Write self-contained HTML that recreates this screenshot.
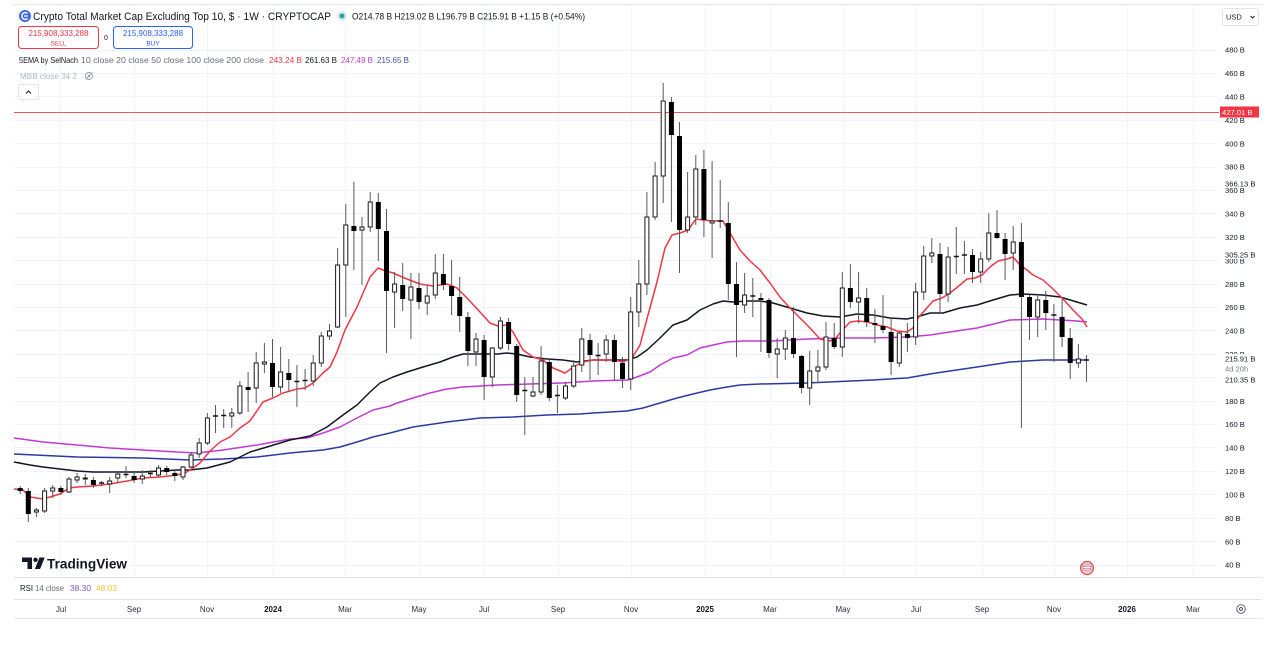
<!DOCTYPE html>
<html><head><meta charset="utf-8"><style>
html,body{margin:0;padding:0;background:#fff;}
svg{display:block;font-family:"Liberation Sans",sans-serif;}
</style></head><body>
<svg width="1286" height="646" viewBox="0 0 1286 646" xmlns="http://www.w3.org/2000/svg">
<rect width="1286" height="646" fill="#fff"/>
<!-- frame lines -->
<g stroke="#e0e3eb" stroke-width="1">
<line x1="13" y1="4.5" x2="1262" y2="4.5"/>
<line x1="14" y1="577.5" x2="1262" y2="577.5"/>
<line x1="14" y1="599.5" x2="1262" y2="599.5"/>
<line x1="14" y1="618.5" x2="1262" y2="618.5"/>
</g>
<!-- horizontal grid -->
<g stroke="#f0f3fa" stroke-width="1">
<line x1="14" y1="50.5" x2="1218" y2="50.5"/><line x1="14" y1="73.5" x2="1218" y2="73.5"/>
<line x1="14" y1="96.5" x2="1218" y2="96.5"/><line x1="14" y1="120.5" x2="1218" y2="120.5"/>
<line x1="14" y1="143.5" x2="1218" y2="143.5"/><line x1="14" y1="167.5" x2="1218" y2="167.5"/>
<line x1="14" y1="190.5" x2="1218" y2="190.5"/><line x1="14" y1="213.5" x2="1218" y2="213.5"/>
<line x1="14" y1="237.5" x2="1218" y2="237.5"/><line x1="14" y1="260.5" x2="1218" y2="260.5"/>
<line x1="14" y1="284.5" x2="1218" y2="284.5"/><line x1="14" y1="307.5" x2="1218" y2="307.5"/>
<line x1="14" y1="330.5" x2="1218" y2="330.5"/><line x1="14" y1="354.5" x2="1218" y2="354.5"/>
<line x1="14" y1="377.5" x2="1218" y2="377.5"/><line x1="14" y1="401.5" x2="1218" y2="401.5"/>
<line x1="14" y1="424.5" x2="1218" y2="424.5"/><line x1="14" y1="447.5" x2="1218" y2="447.5"/>
<line x1="14" y1="471.5" x2="1218" y2="471.5"/><line x1="14" y1="494.5" x2="1218" y2="494.5"/>
<line x1="14" y1="518.5" x2="1218" y2="518.5"/><line x1="14" y1="541.5" x2="1218" y2="541.5"/>
<line x1="14" y1="565.5" x2="1218" y2="565.5"/>
</g>
<!-- vertical grid -->
<g stroke="#f2f4f9" stroke-width="1">
<line x1="60.5" y1="5" x2="60.5" y2="577"/><line x1="134.5" y1="5" x2="134.5" y2="577"/>
<line x1="207.5" y1="5" x2="207.5" y2="577"/><line x1="273.5" y1="5" x2="273.5" y2="577"/>
<line x1="345.5" y1="5" x2="345.5" y2="577"/><line x1="419.5" y1="5" x2="419.5" y2="577"/>
<line x1="484.5" y1="5" x2="484.5" y2="577"/><line x1="558.5" y1="5" x2="558.5" y2="577"/>
<line x1="631.5" y1="5" x2="631.5" y2="577"/><line x1="705.5" y1="5" x2="705.5" y2="577"/>
<line x1="770.5" y1="5" x2="770.5" y2="577"/><line x1="843.5" y1="5" x2="843.5" y2="577"/>
<line x1="916.5" y1="5" x2="916.5" y2="577"/><line x1="982.5" y1="5" x2="982.5" y2="577"/>
<line x1="1054.5" y1="5" x2="1054.5" y2="577"/><line x1="1127.5" y1="5" x2="1127.5" y2="577"/>
<line x1="1193.5" y1="5" x2="1193.5" y2="577"/>
</g>
<!-- red horizontal line -->
<line x1="14" y1="112.5" x2="1219" y2="112.5" stroke="#f7525f" stroke-width="1"/>

<!-- MA lines -->
<g fill="none" stroke-width="1.5" stroke-linejoin="round">
<polyline stroke="#2b3aa0" points="14,454 77,457 143,458 190,460 223,459 257,457 290,453 323,450 340,447 357,442 373,437 390,433 413,427 447,422 480,418 513,417 547,415 580,414 593,413 627,411 643,408 660,403 677,398 693,394 710,390 727,387 740,385 760,384 807,383 873,380 907,378 930,374 943,372 977,367 1010,362 1043,360 1077,360 1087,360"/>
<polyline stroke="#c03bd3" points="14,438 43,442 77,445 110,448 143,450 177,452 197,453 223,450 257,445 290,439 307,438 323,433 340,427 357,418 373,410 390,406 397,403 413,398 430,393 447,389 463,387 480,386 497,385 530,384 563,383 593,381 627,380 637,377 650,372 660,365 673,358 687,355 700,348 713,345 727,342 743,341 773,341 807,339 840,338 873,338 907,337 930,335 943,333 977,328 1010,320 1043,319 1077,321 1087,322"/>
<polyline stroke="#131722" points="14,462 30,465 43,467 60,469 77,471 93,472 110,472 127,472 143,472 160,471 177,470 190,470 207,468 230,462 250,452 267,447 290,440 310,436 327,427 343,415 357,405 370,392 380,383 393,377 407,372 423,367 440,362 453,357 463,354 480,354 497,354 507,353 517,354 530,357 547,359 563,360 577,362 593,360 610,360 627,360 637,357 647,350 660,338 673,325 687,320 700,310 713,304 723,301 733,302 747,301 760,301 773,303 790,308 807,313 823,316 840,317 857,314 873,315 890,318 907,319 920,316 930,313 943,313 960,308 977,305 993,300 1010,295 1023,294 1043,295 1060,297 1077,302 1087,305"/>
<polyline stroke="#f23645" points="14,489 23,490 30,497 43,499 60,494 69,488 77,487 93,486 110,484 127,481 143,478 160,477 177,475 185,473 193,468 200,463 210,451 220,442 230,437 240,428 250,421 263,402 273,398 283,393 297,389 305,388 313,383 323,373 330,367 337,352 345,330 357,307 370,277 378,268 383,270 393,273 407,279 420,284 433,286 447,284 457,288 467,298 480,312 490,323 498,326 507,325 513,332 523,350 533,357 543,360 553,368 565,373 575,366 583,362 593,360 607,360 615,360 623,362 632,358 640,345 648,315 657,282 665,248 672,235 680,233 688,230 696,219 703,220 713,221 723,221 730,233 740,250 750,261 760,270 770,283 780,297 790,308 800,318 810,328 820,339 830,341 835,339 840,333 850,322 858,321 868,322 877,325 887,327 897,331 907,332 913,328 918,318 925,310 933,301 942,298 950,293 960,285 967,279 975,278 982,275 990,267 998,261 1007,259 1013,257 1020,265 1027,270 1033,275 1043,280 1053,289 1063,299 1073,310 1082,319 1087,327"/>
</g>

<!-- wicks -->
<path fill="none" stroke="#5a5a5a" stroke-width="1" d="M20.2 486V494M28.3 488V522M36.4 508V517M44.6 488V513M52.7 485V498M60.9 486V495M69 477V493M77.1 473V483M85.3 474V485M93.4 477V488M101.6 481V486M109.7 477V493M117.8 471V483M126 466V478M134.1 473V483M142.3 470V484M150.4 470V477M158.5 465V477M166.7 466V475M174.8 470V481M183 466V480M191.1 452V468M199.2 438V458M207.4 413V445M215.5 405V433M223.7 409V428M231.8 408V428M239.9 381V415M248.1 372V412M256.2 352V403M264.4 343V373M272.5 339V397M280.6 347V393M288.8 359V392M296.9 365V407M305.1 369V390M313.2 355V386M321.3 332V367M329.5 324V340M337.6 248V328M345.8 204V317M353.9 182V270M362 217V285M370.2 192V232M378.3 193V261M386.5 209V353M394.6 272V328M402.7 263V311M410.9 273V339M419 273V309M427.2 285V315M435.3 254V299M443.4 254V290M451.6 260V315M459.7 277V332M467.9 312V366M476 333V366M484.1 335V400M492.3 347V387M500.4 317V350M508.6 318V350M516.7 344V402M524.8 377V435M533 377V397M541.1 346V395M549.3 358V401M557.4 385V413M565.5 382V400M573.7 360V388M581.8 328V372M590 334V380M598.1 343V375M606.2 335V362M614.4 335V380M622.5 357V388M630.7 297V390M638.8 260V327M646.9 192V295M655.1 162V220M663.2 83V203M671.4 97V222M679.5 122V273M687.6 172V233M695.8 155V225M703.9 150V237M712.1 161V258M720.2 180V228M728.3 202V300M736.5 262V357M744.6 273V313M752.8 278V317M760.9 293V352M769 298V358M777.2 338V378M785.3 330V360M793.5 307V358M801.6 355V393M809.7 351V405M817.9 350V383M826 322V370M834.2 323V349M842.3 272V357M850.4 264V308M858.6 272V323M866.7 288V327M874.9 309V343M883 295V333M891.1 318V375M899.3 332V367M907.4 323V352M915.6 283V345M923.7 246V300M931.8 238V263M940 243V312M948.1 247V302M956.3 227V274M964.4 241V274M972.5 249V283M980.7 252V283M988.8 213V262M997 210V239M1005.1 233V280M1013.2 226V270M1021.4 223V428M1029.5 295V340M1037.7 296V337M1045.8 291V330M1053.9 304V362M1062.1 299V347M1070.2 328V379M1078.4 344V368M1086.5 355V382"/>

<!-- black bodies -->
<path fill="#000" d="M17.7 488h5V491h-5zM25.8 491h5V514h-5zM58.4 488h5V492h-5zM90.9 480h5V485h-5zM131.6 476h5V480h-5zM164.2 468h5V472h-5zM172.3 473h5V476h-5zM245.6 387h5V390h-5zM270 363h5V387h-5zM286.3 373h5V380h-5zM351.4 226h5V231h-5zM375.8 202h5V229h-5zM384 231h5V291h-5zM400.2 285h5V299h-5zM416.5 288h5V302h-5zM440.9 274h5V285h-5zM449.1 286h5V296h-5zM457.2 297h5V316h-5zM465.4 317h5V351h-5zM481.6 340h5V377h-5zM506.1 322h5V344h-5zM514.2 346h5V395h-5zM546.8 362h5V398h-5zM587.5 340h5V355h-5zM611.9 340h5V362h-5zM620 363h5V379h-5zM668.9 102h5V135h-5zM677 136h5V230h-5zM701.4 169h5V220h-5zM725.8 223h5V284h-5zM734 284h5V305h-5zM758.4 298h5V300h-5zM766.5 300h5V353h-5zM791 338h5V354h-5zM799.1 356h5V388h-5zM831.7 338h5V347h-5zM847.9 288h5V302h-5zM864.2 298h5V322h-5zM872.4 323h5V325h-5zM880.5 326h5V330h-5zM888.6 332h5V362h-5zM904.9 334h5V338h-5zM937.5 254h5V294h-5zM970 255h5V272h-5zM994.5 233h5V238h-5zM1002.6 239h5V254h-5zM1018.9 242h5V297h-5zM1027 297h5V317h-5zM1043.3 300h5V313h-5zM1059.6 317h5V337h-5zM1067.7 338h5V363h-5z"/>

<!-- white bodies -->
<path fill="#fff" stroke="#1a1a1a" stroke-width="1" d="M34.4 510h4V512h-4zM42.6 491h4V511h-4zM50.7 488h4V491h-4zM67 479h4V492h-4zM75.1 477h4V480h-4zM83.3 478h4V479h-4zM107.7 481h4V484h-4zM115.8 474h4V478h-4zM140.3 476h4V479h-4zM156.5 468h4V475h-4zM181 467h4V477h-4zM189.1 455h4V467h-4zM197.2 443h4V454h-4zM205.4 418h4V443h-4zM229.8 413h4V416h-4zM237.9 386h4V413h-4zM254.2 363h4V388h-4zM262.4 362h4V364h-4zM278.6 372h4V387h-4zM311.2 363h4V381h-4zM319.3 336h4V363h-4zM327.5 331h4V336h-4zM335.6 265h4V327h-4zM343.8 225h4V265h-4zM360 227h4V230h-4zM368.2 202h4V227h-4zM392.6 284h4V292h-4zM408.9 287h4V300h-4zM425.2 296h4V303h-4zM433.3 273h4V295h-4zM474 339h4V352h-4zM490.3 348h4V377h-4zM498.4 321h4V348h-4zM531 392h4V396h-4zM539.1 361h4V392h-4zM563.5 386h4V398h-4zM571.7 366h4V386h-4zM579.8 339h4V365h-4zM604.2 340h4V354h-4zM628.7 312h4V379h-4zM636.8 284h4V312h-4zM644.9 217h4V284h-4zM653.1 176h4V217h-4zM661.2 101h4V176h-4zM685.6 217h4V230h-4zM693.8 169h4V217h-4zM710.1 221h4V223h-4zM742.6 295h4V305h-4zM775.2 349h4V354h-4zM783.3 338h4V349h-4zM807.7 371h4V388h-4zM815.9 367h4V371h-4zM824 337h4V367h-4zM840.3 288h4V347h-4zM856.6 298h4V302h-4zM897.3 333h4V363h-4zM913.6 292h4V337h-4zM921.7 256h4V292h-4zM929.8 253h4V256h-4zM946.1 257h4V294h-4zM978.7 259h4V272h-4zM986.8 233h4V259h-4zM1011.2 242h4V253h-4zM1035.7 300h4V317h-4zM1076.4 359h4V363h-4z"/>

<!-- doji -->
<path fill="none" stroke="#111" stroke-width="1.5" d="M99.1 483h5M123.5 474.5h5M147.9 473.5h5M213 416h5M221.2 415.5h5M294.4 381.5h5M302.6 380.5h5M522.3 390.5h5M554.9 395.5h5M595.6 355.5h5M717.7 221h5M750.3 296h5M953.8 256.5h5M961.9 255h5M1051.4 315h5M1084 360h5"/>

<!-- price axis labels -->
<g font-size="7.6" fill="#131722">
<text x="1225" y="52.7">480 B</text>
<text x="1225" y="76.1">460 B</text>
<text x="1225" y="99.5">440 B</text>
<text x="1225" y="122.9">420 B</text>
<text x="1225" y="146.3">400 B</text>
<text x="1225" y="169.7">380 B</text>
<text x="1225" y="193.2">360 B</text>
<rect x="1223" y="178" width="36" height="10" fill="#fff"/>
<text x="1225" y="186.7">366.13 B</text>
<text x="1225" y="216.6">340 B</text>
<text x="1225" y="240">320 B</text>
<text x="1225" y="263.4">300 B</text>
<rect x="1223" y="249" width="36" height="10" fill="#fff"/>
<text x="1225" y="257.7">305.25 B</text>
<text x="1225" y="286.8">280 B</text>
<text x="1225" y="310.2">260 B</text>
<text x="1225" y="333.6">240 B</text>
<text x="1225" y="357">220 B</text>
<rect x="1223" y="354" width="36" height="31" fill="#fff"/>
<text x="1225" y="361.7">215.91 B</text>
<text x="1225" y="371.5" fill="#787b86">4d 20h</text>
<text x="1225" y="382.7">210.35 B</text>
<text x="1225" y="403.8">180 B</text>
<text x="1225" y="427.2">160 B</text>
<text x="1225" y="450.6">140 B</text>
<text x="1225" y="474.1">120 B</text>
<text x="1225" y="497.5">100 B</text>
<text x="1225" y="520.9">80 B</text>
<text x="1225" y="544.3">60 B</text>
<text x="1225" y="567.7">40 B</text>
</g>
<rect x="1220" y="106.5" width="39" height="11" fill="#f23645"/>
<text x="1222" y="114.8" font-size="7.6" fill="#fff">427.01 B</text>

<!-- USD box -->
<rect x="1222.5" y="8.5" width="36" height="17" rx="3" fill="#fff" stroke="#e0e3eb"/>
<text x="1226" y="19.5" font-size="7.5" fill="#131722">USD</text>
<path d="M1250.5 16l2 2 2-2" fill="none" stroke="#131722" stroke-width="0.9"/>

<!-- header -->
<circle cx="25" cy="16" r="6" fill="#3d6ce0"/>
<path d="M27.5 13.5a3.4 3.4 0 1 0 0 5" fill="none" stroke="#fff" stroke-width="1.4"/>
<path d="M24 16h4" stroke="#fff" stroke-width="1.2"/>
<text x="33" y="20" font-size="11" fill="#131722" textLength="298" lengthAdjust="spacingAndGlyphs">Crypto Total Market Cap Excluding Top 10, $ · 1W · CRYPTOCAP</text>
<circle cx="342" cy="16" r="5" fill="#e3e6ec"/>
<circle cx="342" cy="16" r="2.5" fill="#26a69a"/>
<text x="352" y="19.5" font-size="9" fill="#131722" textLength="233" lengthAdjust="spacingAndGlyphs">O214.78 B H219.02 B L196.79 B C215.91 B +1.15 B (+0.54%)</text>

<rect x="18.5" y="26.5" width="80" height="22" rx="3" fill="#fff" stroke="#f23645"/>
<text x="58.5" y="36" font-size="8" fill="#f23645" text-anchor="middle">215,908,333,288</text>
<text x="58.5" y="45.5" font-size="6.5" fill="#f23645" text-anchor="middle">SELL</text>
<text x="106" y="40" font-size="7" fill="#131722" text-anchor="middle">0</text>
<rect x="113.5" y="26.5" width="79" height="22" rx="3" fill="#fff" stroke="#2962ff"/>
<text x="153" y="36" font-size="8" fill="#2962ff" text-anchor="middle">215,908,333,288</text>
<text x="153" y="45.5" font-size="6.5" fill="#2962ff" text-anchor="middle">BUY</text>

<text x="19" y="63" font-size="8.5" fill="#131722" textLength="59" lengthAdjust="spacingAndGlyphs">5EMA by SelNach</text>
<text x="81" y="63" font-size="8.5" fill="#6a6d78" textLength="183" lengthAdjust="spacingAndGlyphs">10 close 20 close 50 close 100 close 200 close</text>
<text x="269" y="63" font-size="8.5" fill="#f23645" textLength="33" lengthAdjust="spacingAndGlyphs">243.24 B</text>
<text x="305" y="63" font-size="8.5" fill="#131722" textLength="32" lengthAdjust="spacingAndGlyphs">261.63 B</text>
<text x="341" y="63" font-size="8.5" fill="#c03bd3" textLength="32" lengthAdjust="spacingAndGlyphs">247.49 B</text>
<text x="377" y="63" font-size="8.5" fill="#3f51b5" textLength="32" lengthAdjust="spacingAndGlyphs">215.65 B</text>

<text x="20" y="79" font-size="8.5" fill="#b2b5be" textLength="57" lengthAdjust="spacingAndGlyphs">MBB close 34 2</text>
<circle cx="89" cy="76" r="3.5" fill="none" stroke="#9598a1" stroke-width="0.9"/>
<circle cx="89" cy="76" r="1.3" fill="#9598a1"/>
<path d="M85.5 79.5l7-7" stroke="#9598a1" stroke-width="0.8"/>

<rect x="18.5" y="84.5" width="20" height="15" rx="2" fill="#fff" stroke="#e0e3eb"/>
<path d="M26 93.5l2.5-2.5 2.5 2.5" fill="none" stroke="#131722" stroke-width="1"/>

<!-- TradingView logo -->
<path d="M22 557.5h10v11.5h-4.5v-7h-5.5z" fill="#131722"/>
<circle cx="35.5" cy="559.8" r="2.2" fill="#131722"/>
<path d="M39.5 557.5h5.2l-4.6 11.5h-5.2z" fill="#131722"/>
<text x="47" y="568.5" font-size="13.5" font-weight="bold" fill="#131722" textLength="80" lengthAdjust="spacingAndGlyphs">TradingView</text>

<!-- event flag -->
<circle cx="1087" cy="568" r="6.5" fill="#f7c6c6" stroke="#e53935" stroke-width="1"/>
<rect x="1083" y="565" width="8" height="5" fill="#fff" stroke="#5b7bd5" stroke-width="0.6"/>
<path d="M1083 566.5h8M1083 568.5h8" stroke="#e53935" stroke-width="0.6"/>

<!-- RSI legend -->
<text x="20" y="591" font-size="8.5" fill="#131722" textLength="13" lengthAdjust="spacingAndGlyphs">RSI</text>
<text x="35" y="591" font-size="8.5" fill="#6a6d78" textLength="29" lengthAdjust="spacingAndGlyphs">14 close</text>
<text x="70" y="591" font-size="8.5" fill="#7e57c2" textLength="21" lengthAdjust="spacingAndGlyphs">38.30</text>
<text x="96" y="591" font-size="8.5" fill="#f7c13a" textLength="21" lengthAdjust="spacingAndGlyphs">48.03</text>

<!-- time axis -->
<g font-size="8" fill="#2a2e39" text-anchor="middle">
<text x="61" y="612">Jul</text>
<text x="134" y="612">Sep</text>
<text x="207" y="612">Nov</text>
<text x="273" y="612" fill="#131722" font-weight="bold">2024</text>
<text x="345" y="612">Mar</text>
<text x="419" y="612">May</text>
<text x="484" y="612">Jul</text>
<text x="558" y="612">Sep</text>
<text x="631" y="612">Nov</text>
<text x="705" y="612" fill="#131722" font-weight="bold">2025</text>
<text x="770" y="612">Mar</text>
<text x="843" y="612">May</text>
<text x="916" y="612">Jul</text>
<text x="982" y="612">Sep</text>
<text x="1054" y="612">Nov</text>
<text x="1127" y="612" fill="#131722" font-weight="bold">2026</text>
<text x="1193" y="612">Mar</text>
</g>
<circle cx="1241" cy="609" r="4.3" fill="none" stroke="#50535e" stroke-width="0.9"/>
<circle cx="1241" cy="609" r="1.5" fill="none" stroke="#50535e" stroke-width="0.9"/>
</svg>
</body></html>
